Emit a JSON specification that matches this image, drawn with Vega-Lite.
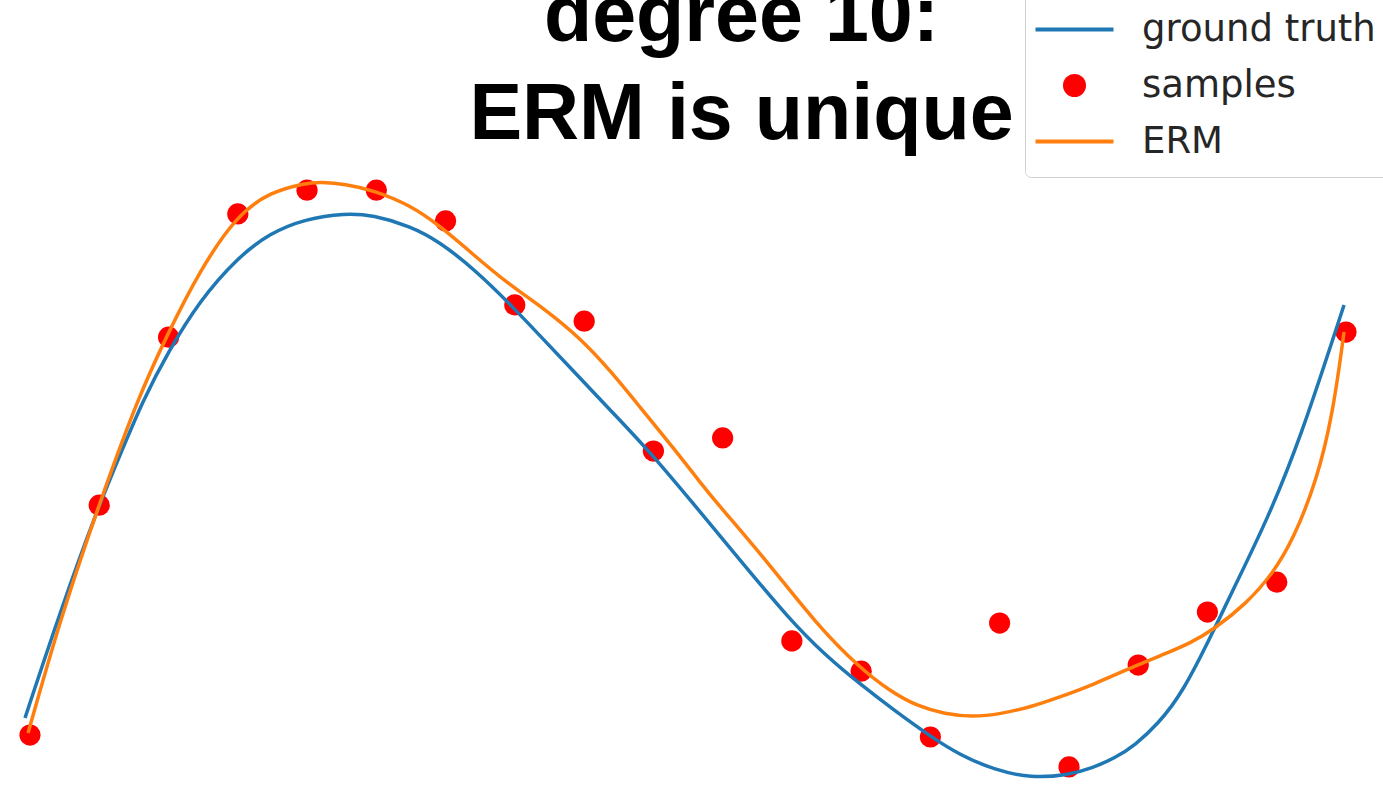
{
  "$schema": "https://vega.github.io/schema/vega-lite/v6.json",
  "width": 1383,
  "height": 807,
  "autosize": "none",
  "padding": 0,
  "background": "white",
  "config": {"view": {"stroke": null}},
  "title": {
    "text": ["degree 10:", "ERM is unique"],
    "font": "Liberation Sans",
    "fontSize": 79,
    "fontWeight": "bold",
    "color": "#000000",
    "lineHeight": 98,
    "anchor": "middle",
    "frame": "group",
    "offset": -162,
    "dx": 50
  },
  "datasets": {
    "samples": [
      {"x": 0.0000, "y": -0.982, "series": "samples"},
      {"x": 0.0526, "y": -0.161, "series": "samples"},
      {"x": 0.1053, "y": 0.439, "series": "samples"},
      {"x": 0.1579, "y": 0.879, "series": "samples"},
      {"x": 0.2105, "y": 0.964, "series": "samples"},
      {"x": 0.2632, "y": 0.964, "series": "samples"},
      {"x": 0.3158, "y": 0.854, "series": "samples"},
      {"x": 0.3684, "y": 0.554, "series": "samples"},
      {"x": 0.4211, "y": 0.496, "series": "samples"},
      {"x": 0.4737, "y": 0.032, "series": "samples"},
      {"x": 0.5263, "y": 0.079, "series": "samples"},
      {"x": 0.5789, "y": -0.646, "series": "samples"},
      {"x": 0.6316, "y": -0.754, "series": "samples"},
      {"x": 0.6842, "y": -0.989, "series": "samples"},
      {"x": 0.7368, "y": -0.582, "series": "samples"},
      {"x": 0.7895, "y": -1.096, "series": "samples"},
      {"x": 0.8421, "y": -0.732, "series": "samples"},
      {"x": 0.8947, "y": -0.543, "series": "samples"},
      {"x": 0.9474, "y": -0.436, "series": "samples"},
      {"x": 1.0000, "y": 0.457, "series": "samples"}
    ],
    "truth": [
      {"x": -0.0038, "y": -0.921, "series": "ground truth"},
      {"x": 0.0228, "y": -0.543, "series": "ground truth"},
      {"x": 0.0509, "y": -0.179, "series": "ground truth"},
      {"x": 0.0684, "y": 0.018, "series": "ground truth"},
      {"x": 0.0859, "y": 0.214, "series": "ground truth"},
      {"x": 0.1049, "y": 0.386, "series": "ground truth"},
      {"x": 0.1292, "y": 0.571, "series": "ground truth"},
      {"x": 0.1573, "y": 0.721, "series": "ground truth"},
      {"x": 0.1824, "y": 0.811, "series": "ground truth"},
      {"x": 0.2090, "y": 0.861, "series": "ground truth"},
      {"x": 0.2394, "y": 0.882, "series": "ground truth"},
      {"x": 0.2606, "y": 0.875, "series": "ground truth"},
      {"x": 0.2888, "y": 0.836, "series": "ground truth"},
      {"x": 0.3116, "y": 0.779, "series": "ground truth"},
      {"x": 0.3381, "y": 0.679, "series": "ground truth"},
      {"x": 0.3663, "y": 0.550, "series": "ground truth"},
      {"x": 0.3913, "y": 0.425, "series": "ground truth"},
      {"x": 0.4179, "y": 0.293, "series": "ground truth"},
      {"x": 0.4445, "y": 0.161, "series": "ground truth"},
      {"x": 0.4711, "y": 0.029, "series": "ground truth"},
      {"x": 0.5038, "y": -0.154, "series": "ground truth"},
      {"x": 0.5395, "y": -0.357, "series": "ground truth"},
      {"x": 0.5775, "y": -0.571, "series": "ground truth"},
      {"x": 0.6041, "y": -0.696, "series": "ground truth"},
      {"x": 0.6307, "y": -0.800, "series": "ground truth"},
      {"x": 0.6573, "y": -0.896, "series": "ground truth"},
      {"x": 0.6839, "y": -0.986, "series": "ground truth"},
      {"x": 0.7067, "y": -1.054, "series": "ground truth"},
      {"x": 0.7333, "y": -1.107, "series": "ground truth"},
      {"x": 0.7606, "y": -1.136, "series": "ground truth"},
      {"x": 0.7888, "y": -1.125, "series": "ground truth"},
      {"x": 0.8070, "y": -1.100, "series": "ground truth"},
      {"x": 0.8245, "y": -1.064, "series": "ground truth"},
      {"x": 0.8397, "y": -1.018, "series": "ground truth"},
      {"x": 0.8571, "y": -0.943, "series": "ground truth"},
      {"x": 0.8761, "y": -0.829, "series": "ground truth"},
      {"x": 0.8989, "y": -0.614, "series": "ground truth"},
      {"x": 0.9141, "y": -0.464, "series": "ground truth"},
      {"x": 0.9400, "y": -0.214, "series": "ground truth"},
      {"x": 0.9650, "y": 0.071, "series": "ground truth"},
      {"x": 0.9985, "y": 0.554, "series": "ground truth"}
    ],
    "erm": [
      {"x": -0.0015, "y": -0.975, "series": "ERM"},
      {"x": 0.0228, "y": -0.571, "series": "ERM"},
      {"x": 0.0509, "y": -0.179, "series": "ERM"},
      {"x": 0.0813, "y": 0.214, "series": "ERM"},
      {"x": 0.1041, "y": 0.446, "series": "ERM"},
      {"x": 0.1292, "y": 0.679, "series": "ERM"},
      {"x": 0.1573, "y": 0.875, "series": "ERM"},
      {"x": 0.1824, "y": 0.957, "series": "ERM"},
      {"x": 0.2090, "y": 0.989, "series": "ERM"},
      {"x": 0.2211, "y": 0.993, "series": "ERM"},
      {"x": 0.2394, "y": 0.986, "series": "ERM"},
      {"x": 0.2606, "y": 0.964, "series": "ERM"},
      {"x": 0.2888, "y": 0.911, "series": "ERM"},
      {"x": 0.3116, "y": 0.836, "series": "ERM"},
      {"x": 0.3381, "y": 0.729, "series": "ERM"},
      {"x": 0.3625, "y": 0.632, "series": "ERM"},
      {"x": 0.3913, "y": 0.539, "series": "ERM"},
      {"x": 0.4179, "y": 0.436, "series": "ERM"},
      {"x": 0.4407, "y": 0.321, "series": "ERM"},
      {"x": 0.4635, "y": 0.189, "series": "ERM"},
      {"x": 0.4901, "y": 0.036, "series": "ERM"},
      {"x": 0.5091, "y": -0.079, "series": "ERM"},
      {"x": 0.5220, "y": -0.154, "series": "ERM"},
      {"x": 0.5600, "y": -0.361, "series": "ERM"},
      {"x": 0.5980, "y": -0.589, "series": "ERM"},
      {"x": 0.6307, "y": -0.743, "series": "ERM"},
      {"x": 0.6535, "y": -0.825, "series": "ERM"},
      {"x": 0.6740, "y": -0.879, "series": "ERM"},
      {"x": 0.6953, "y": -0.907, "series": "ERM"},
      {"x": 0.7166, "y": -0.918, "series": "ERM"},
      {"x": 0.7371, "y": -0.907, "series": "ERM"},
      {"x": 0.7606, "y": -0.882, "series": "ERM"},
      {"x": 0.7827, "y": -0.846, "series": "ERM"},
      {"x": 0.8070, "y": -0.804, "series": "ERM"},
      {"x": 0.8412, "y": -0.732, "series": "ERM"},
      {"x": 0.8640, "y": -0.689, "series": "ERM"},
      {"x": 0.8815, "y": -0.654, "series": "ERM"},
      {"x": 0.8989, "y": -0.607, "series": "ERM"},
      {"x": 0.9248, "y": -0.511, "series": "ERM"},
      {"x": 0.9445, "y": -0.404, "series": "ERM"},
      {"x": 0.9597, "y": -0.286, "series": "ERM"},
      {"x": 0.9780, "y": -0.071, "series": "ERM"},
      {"x": 0.9901, "y": 0.168, "series": "ERM"},
      {"x": 0.9985, "y": 0.457, "series": "ERM"}
    ]
  },
  "encoding": {
    "x": {"field": "x", "type": "quantitative", "scale": {"domain": [-0.0228, 1.0281], "nice": false, "zero": false}, "axis": null},
    "y": {"field": "y", "type": "quantitative", "scale": {"domain": [-1.239, 1.643], "nice": false, "zero": false}, "axis": null},
    "color": {
      "field": "series",
      "type": "nominal",
      "scale": {"domain": ["ground truth", "samples", "ERM"], "range": ["#1f77b4", "#ff0000", "#ff7f0e"]},
      "legend": {
        "title": null,
        "orient": "none",
        "legendX": 1025,
        "legendY": -6,
        "symbolSize": 6084,
        "symbolStrokeWidth": 4,
        "symbolOffset": 14,
        "labelFont": "DejaVu Sans",
        "labelFontSize": 37,
        "labelColor": "#262626",
        "labelOffset": 49,
        "labelLimit": 600,
        "rowPadding": 18,
        "padding": 17,
        "strokeColor": "#d0d0d0",
        "fillColor": "#ffffff",
        "cornerRadius": 6,
        "encode": {
          "symbols": {
            "update": {
              "shape": {"signal": "datum.value === 'samples' ? 'circle' : 'stroke'"},
              "size": {"signal": "datum.value === 'samples' ? 530 : 6084"},
              "fill": {"signal": "datum.value === 'samples' ? '#ff0000' : 'transparent'"},
              "stroke": {"scale": "color", "field": "value"},
              "strokeWidth": {"signal": "datum.value === 'samples' ? 0 : 4"},
              "opacity": {"value": 1}
            }
          }
        }
      }
    }
  },
  "layer": [
    {"data": {"name": "samples"}, "mark": {"type": "point", "filled": true, "opacity": 1, "size": 450, "shape": "circle"}},
    {"data": {"name": "truth"}, "mark": {"type": "line", "strokeWidth": 3.5, "interpolate": "basis"}},
    {"data": {"name": "erm"}, "mark": {"type": "line", "strokeWidth": 3.5, "interpolate": "basis"}}
  ]
}
